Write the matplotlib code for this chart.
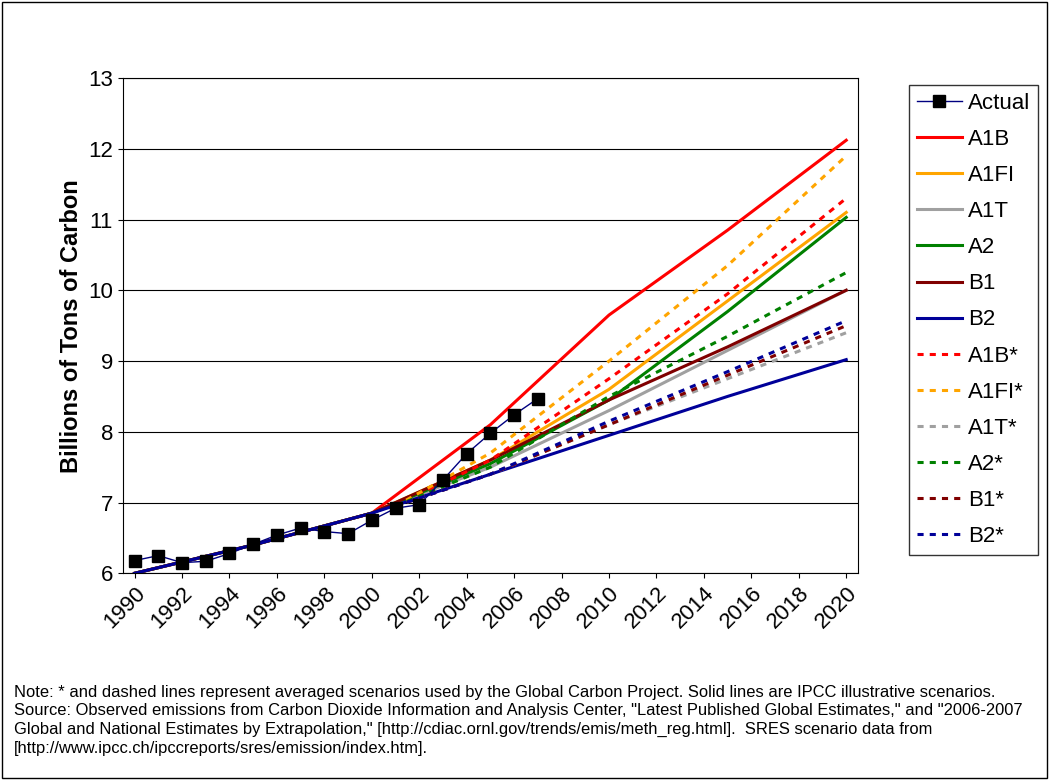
import matplotlib
matplotlib.use("Agg")
import matplotlib.pyplot as plt
from matplotlib.patches import Rectangle

plt.rcParams["font.family"] = ["Liberation Sans", "DejaVu Sans"]

actual_years = list(range(1990, 2008))
actual = [6.18, 6.25, 6.15, 6.17, 6.28, 6.41, 6.54, 6.64, 6.59, 6.56,
          6.75, 6.92, 6.97, 7.32, 7.69, 7.98, 8.24, 8.47]

sres_years = [1990, 1995, 2000, 2005, 2010, 2015, 2020]
sres = {
    "A1B": [6.0, 6.4, 6.85, 8.1, 9.65, 10.85, 12.12],
    "A1FI": [6.0, 6.4, 6.85, 7.6, 8.6, 9.85, 11.1],
    "A1T": [6.0, 6.4, 6.85, 7.5, 8.3, 9.15, 10.0],
    "A2": [6.0, 6.4, 6.85, 7.55, 8.45, 9.7, 11.03],
    "B1": [6.0, 6.4, 6.85, 7.6, 8.45, 9.2, 10.0],
    "B2": [6.0, 6.4, 6.85, 7.4, 7.95, 8.5, 9.02],
}
gcp_years = [2001, 2005, 2010, 2015, 2020]
gcp = {
    "A1B*": [6.95, 7.6, 8.75, 9.95, 11.3],
    "A1FI*": [6.95, 7.7, 9.0, 10.35, 11.9],
    "A1T*": [6.95, 7.4, 8.1, 8.75, 9.4],
    "A2*": [6.95, 7.5, 8.5, 9.35, 10.25],
    "B1*": [6.95, 7.4, 8.1, 8.8, 9.5],
    "B2*": [6.95, 7.4, 8.15, 8.85, 9.57],
}
colors = {"A1B": "#ff0000", "A1FI": "#ffa500", "A1T": "#a0a0a0",
          "A2": "#008000", "B1": "#800000", "B2": "#000099"}

fig = plt.figure(figsize=(10.49, 7.8), dpi=100)
fig.patches.append(Rectangle((0.002, 0.002), 0.996, 0.996, transform=fig.transFigure,
                             fill=False, edgecolor="black", linewidth=1))
ax = fig.add_axes([0.117, 0.265, 0.701, 0.635])

for name, vals in sres.items():
    ax.plot(sres_years, vals, color=colors[name], linewidth=2.2, label=name)
for name, vals in gcp.items():
    ax.plot(gcp_years, vals, color=colors[name[:-1]], linewidth=2.2,
            linestyle=(0, (2, 2)), label=name)
ax.plot(actual_years, actual, color="#000080", linewidth=1, marker="s",
        markersize=8, markerfacecolor="black", markeredgecolor="black",
        label="Actual", zorder=5)

ax.set_xlim(1989.5, 2020.5)
ax.set_ylim(6, 13)
ax.set_xticks(range(1990, 2021, 2))
ax.set_xticklabels([str(y) for y in range(1990, 2021, 2)], rotation=45,
                   ha="right", rotation_mode="anchor", fontsize=16)
ax.set_yticks(range(6, 14))
ax.tick_params(axis="y", labelsize=16)
ax.yaxis.grid(True, color="black", linewidth=0.8)
ax.set_axisbelow(True)
ax.set_ylabel("Billions of Tons of Carbon", fontsize=17, fontweight="bold")

h, l = ax.get_legend_handles_labels()
order = [l.index("Actual")] + [i for i, s in enumerate(l) if s != "Actual"]
leg = fig.legend([h[i] for i in order], [l[i] for i in order],
                 loc="upper left", bbox_to_anchor=(0.867, 0.891),
                 fontsize=16, frameon=True, fancybox=False, edgecolor="black",
                 handlelength=2.0, handletextpad=0.3, labelspacing=0.68,
                 borderpad=0.35, borderaxespad=0)
leg.get_frame().set_linewidth(1)

note = ("Note: * and dashed lines represent averaged scenarios used by the Global Carbon Project. Solid lines are IPCC illustrative scenarios.\n"
        "Source: Observed emissions from Carbon Dioxide Information and Analysis Center, \"Latest Published Global Estimates,\" and \"2006-2007\n"
        "Global and National Estimates by Extrapolation,\" [http://cdiac.ornl.gov/trends/emis/meth_reg.html].  SRES scenario data from\n"
        "[http://www.ipcc.ch/ipccreports/sres/emission/index.htm].")
fig.text(0.013, 0.122, note, fontsize=11.9, va="top", linespacing=1.3)

fig.savefig("out.png", dpi=100)
